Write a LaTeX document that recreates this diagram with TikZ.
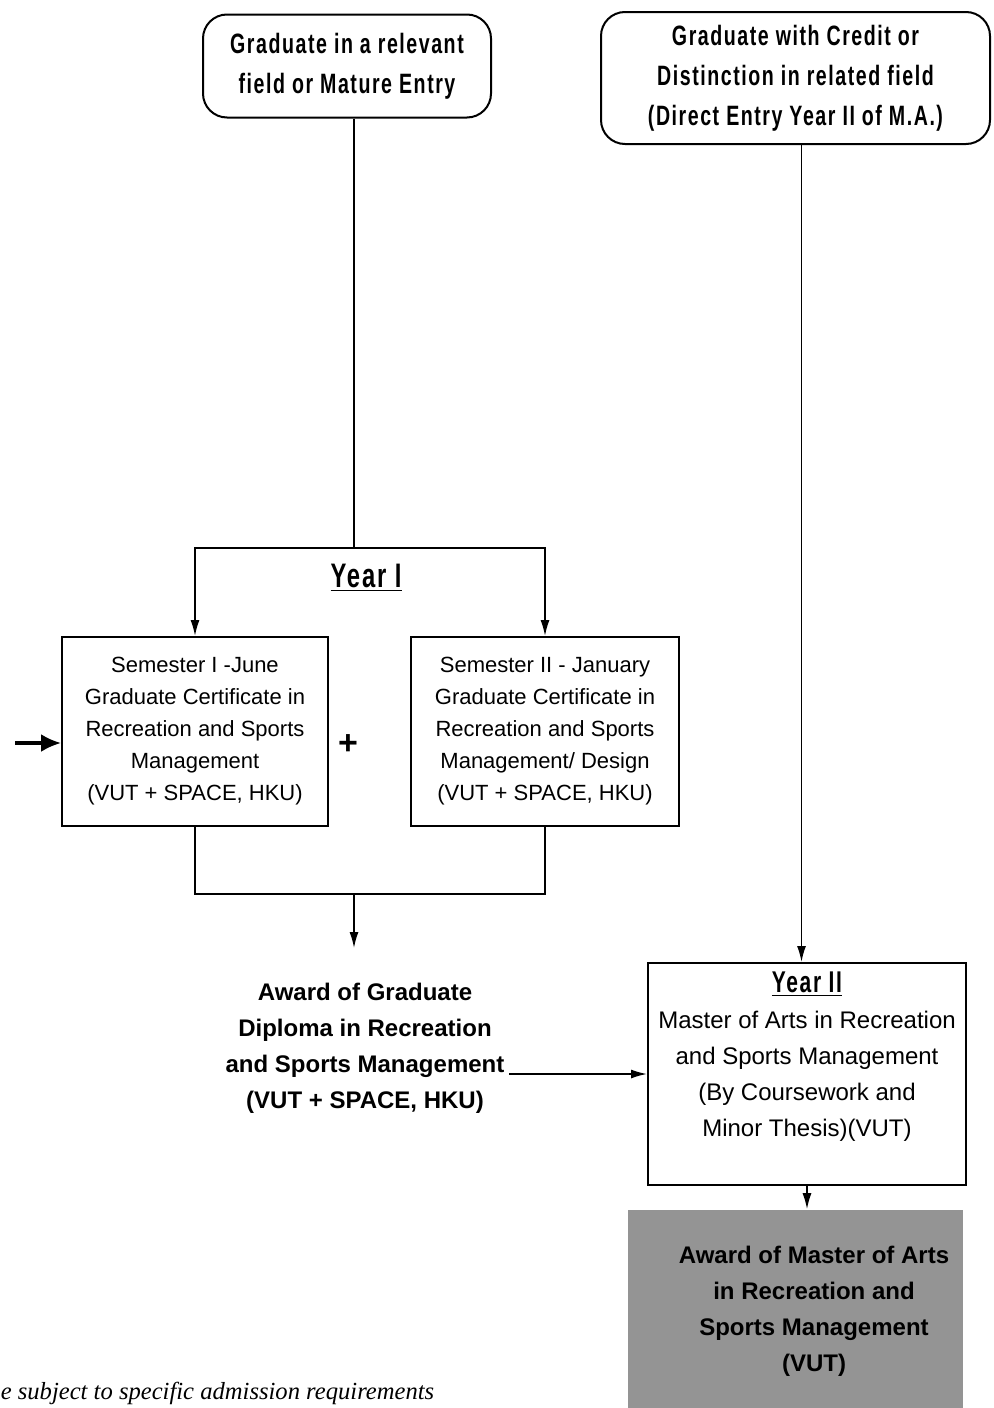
\documentclass[tikz,border=0pt]{standalone}
\usepackage{fontspec}
\setmainfont{Liberation Sans}
\newfontfamily\condfont[FakeStretch=0.7,LetterSpace=5.5]{Liberation Sans}
\newfontfamily\notefont{Liberation Serif}
\usetikzlibrary{arrows.meta, positioning, calc}
\newcommand{\feed}[2]
{
	\draw[-{Latex[length=8pt,width=4.5pt]}] (#1) -| (#2.north)
}

\begin{document}
\begin{tikzpicture}[x=0.5pt, y=-0.5pt,
	line width=0.8pt,
	every node/.append style={inner sep=0pt, align=center},
	entry/.style={draw, rounded corners=12pt, line width=1pt,
		font=\condfont\bfseries\fontsize{14}{20}\selectfont},
	course/.style={draw, line width=1pt, font=\fontsize{11}{16}\selectfont},
	award/.style={font=\bfseries\fontsize{12}{18}\selectfont},
	yr/.style={font=\condfont\bfseries\fontsize{17}{18}\selectfont},
	tip/.style={-{Latex[length=8pt,width=4.5pt]}}]

	\useasboundingbox (0,0) rectangle (993,1408);

	\node[entry, minimum width=144pt, minimum height=51.5pt] at (347, 66) (G){Graduate in a relevant\\field or Mature Entry};
	\node[entry, minimum width=194.5pt, minimum height=66pt] at (795.5, 78) (C){Graduate with Credit or\\Distinction in related field\\(Direct Entry Year II of M.A.)};

	\node[yr] at (366, 578) (Y1){\underline{Year I}};
	\node[course, minimum width=133pt, minimum height=94.5pt] at (195, 731.5) (S1){Semester I -June\\Graduate Certificate in\\Recreation and Sports\\Management\\(VUT + SPACE, HKU)};
	\node[course, minimum width=134pt, minimum height=94.5pt] at (545, 731.5) (S2){Semester II - January\\Graduate Certificate in\\Recreation and Sports\\Management/ Design\\(VUT + SPACE, HKU)};
	\node[font=\bfseries\fontsize{17}{17}\selectfont] at (348, 745) (P){+};

	\node[award, inner xsep=2pt, inner ysep=17pt] at (365, 1048) (A){Award of Graduate\\Diploma in Recreation\\and Sports Management\\(VUT + SPACE, HKU)};

	\node[draw, line width=1pt, minimum width=159pt, minimum height=111pt] at (807, 1074) (Y2){};
	\node[font=\fontsize{12}{18}\selectfont] at (807, 1056.5) (Y2t){{\condfont\bfseries\fontsize{15}{18}\selectfont\underline{Year II}}\\Master of Arts in Recreation\\and Sports Management\\(By Coursework and\\Minor Thesis)(VUT)};

	\node[fill=black!42, minimum width=167.5pt, minimum height=101pt] at (795.5, 1311) (M){};
	\node[award] at (814, 1311.5) (Mt){Award of Master of Arts\\in Recreation and\\Sports Management\\(VUT)};

	\node[anchor=base west, font=\notefont\itshape\fontsize{12.3}{14}\selectfont] at (0, 1399) (N){e subject to specific admission requirements};

	\coordinate (top) at (354, 548);
	\coordinate (bot) at (354, 894);
	\coordinate (in) at (15, 743);

	\draw (top |- G.south) -- (top);
	\feed{top}{S1};
	\feed{top}{S2};
	\draw[-{Latex[length=10pt,width=9pt]}, line width=1.6pt] (in) -- (in -| S1.west);
	\draw (S1.south) |- (bot) -| (S2.south);
	\draw[tip] (bot) -- (bot |- A.north);
	\draw[tip] (A.east |- Y2.west) -- (Y2.west);
	\draw[tip] ([xshift=3pt]C.south) -- ([xshift=3pt]C.south |- Y2.north);
	\draw[tip] (Y2.south) -- (Y2.south |- M.north);
\end{tikzpicture}
\end{document}
